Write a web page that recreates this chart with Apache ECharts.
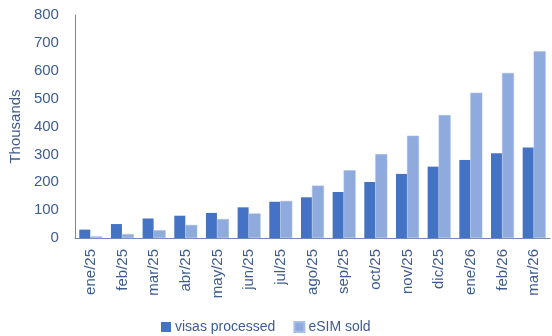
<!DOCTYPE html>
<html><head><meta charset="utf-8">
<script src="https://cdn.jsdelivr.net/npm/echarts@6/dist/echarts.min.js"></script>
<style>html,body{margin:0;padding:0;background:#fff}#c{width:552px;height:336px}</style>
</head><body><div id="c"></div>
<script>
var categories = ['ene/25','feb/25','mar/25','abr/25','may/25','jun/25','jul/25','ago/25','sep/25','oct/25','nov/25','dic/25','ene/26','feb/26','mar/26'];
var visasProcessed = [30, 50, 70, 80, 90, 110, 130, 146, 165, 201, 230, 256, 280, 304, 325];
var esimSold = [6, 14, 28, 47, 68, 88, 133, 188, 243, 301, 367, 441, 521, 592, 670];
var yTicks = [0, 100, 200, 300, 400, 500, 600, 700, 800];

var textColor = '#3E5C8F';
var font = 'Liberation Sans';
var chart = echarts.init(document.getElementById('c'), null, {renderer: 'canvas'});
chart.setOption({
  animation: false,
  textStyle: {fontFamily: font},
  grid: {left: 71, right: 2, top: 15, bottom: 98, containLabel: false},
  legend: {
    bottom: -3, left: 156, itemWidth: 10, itemHeight: 10, itemGap: 18,
    textStyle: {color: textColor, fontSize: 14, fontFamily: font, padding: [0,0,0,-1]},
    icon: 'rect',
    data: ['visas processed', 'eSIM sold']
  },
  xAxis: {
    type: 'category', data: categories,
    axisLine: {lineStyle: {color: '#6F89B5', width: 1}},
    axisTick: {show: false},
    axisLabel: {rotate: 90, color: textColor, fontSize: 15, margin: 11, interval: 0}
  },
  yAxis: {
    type: 'value', min: yTicks[0], max: yTicks[yTicks.length-1], interval: 100,
    name: 'Thousands', nameLocation: 'middle', nameGap: 48,
    nameTextStyle: {color: textColor, fontSize: 15},
    axisLine: {show: true, lineStyle: {color: '#6F89B5', width: 1}},
    axisTick: {show: false},
    splitLine: {show: false},
    axisLabel: {color: textColor, fontSize: 15, margin: 16}
  },
  series: [
    {name: 'visas processed', type: 'bar', data: visasProcessed, barWidth: 11, barGap: '0%',
     itemStyle: {color: '#4472C4'}},
    {name: 'eSIM sold', type: 'bar', data: esimSold, barWidth: 12,
     itemStyle: {color: '#8FAADC', borderColor: '#A9BFE6', borderWidth: 0.5}}
  ]
});
</script></body></html>
